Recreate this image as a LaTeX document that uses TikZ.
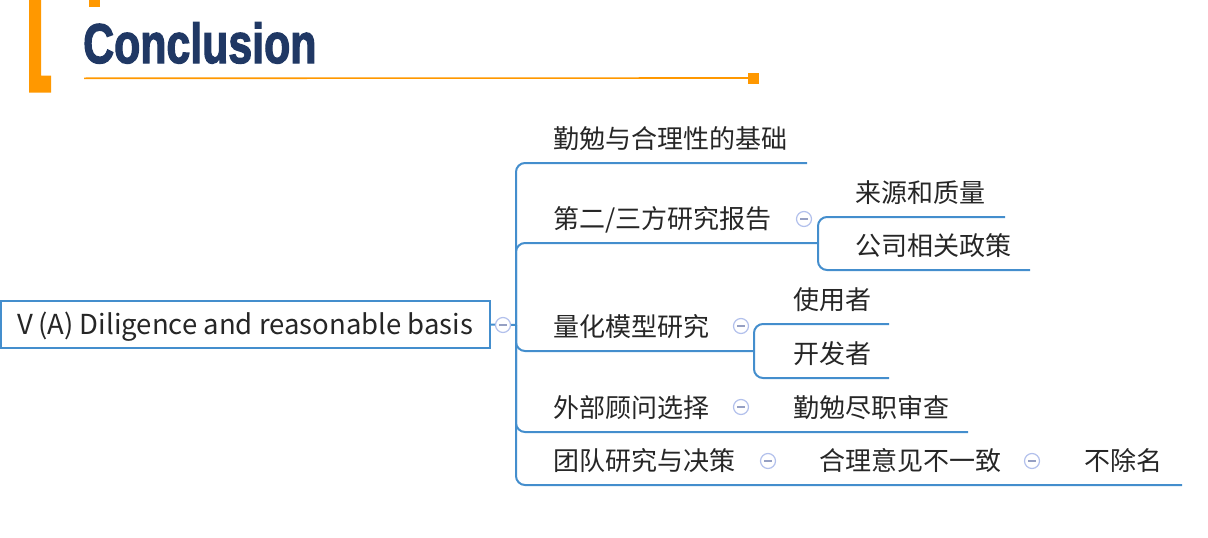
\documentclass[tikz,border=0pt]{standalone}
\usepackage{graphicx}
\usepackage{fontspec}
\setmainfont{Noto Sans CJK SC}
\newfontfamily\titlefont{Liberation Sans}[BoldFeatures={FakeBold=2.5}]

\definecolor{accent}{RGB}{255,152,0}
\definecolor{titleblue}{RGB}{32,56,100}
\definecolor{mapblue}{RGB}{68,142,205}
\definecolor{ink}{RGB}{38,38,38}
\definecolor{foldring}{RGB}{178,192,236}
\definecolor{foldbar}{RGB}{150,160,195}

\tikzset{
  branch/.style={draw=mapblue, line width=2pt, rounded corners=9pt},
  topic/.style={anchor=base west, inner sep=0pt, text=ink,
                font=\fontsize{26}{30}\selectfont},
  rootbox/.style={draw=mapblue, line width=1.8pt, fill=white,
                  minimum width=489pt, minimum height=47pt, inner sep=0pt,
                  text=ink, font=\fontsize{27.5}{32}\selectfont,
                  text height=24pt, text depth=5pt},
  fold/.style={circle, draw=foldring, line width=1.2pt, fill=white,
               minimum size=15pt, inner sep=0pt,
               path picture={\draw[foldbar, line width=1.8pt]
                 ([xshift=-3.6pt]path picture bounding box.center) --
                 ([xshift=3.6pt]path picture bounding box.center);}}
}

\begin{document}
\begin{tikzpicture}[x=1pt,y=-1pt]
\useasboundingbox (0,0) rectangle (1208,538);

% ---- heading ----
\fill[accent] (29,0) -- (41,0) -- (41,75.5) -- (51,75.5) -- (51,92.5) -- (29,92.5) -- cycle;
\fill[accent] (89,0) rectangle (100,7);
\node[anchor=base west, inner sep=0pt, text=titleblue] (title) at (83,63)
  {\scalebox{0.765}[1]{\titlefont\bfseries\fontsize{56}{60}\selectfont Conclusion}};
\coordinate (rulestart) at (84,78.3);
\node[fill=accent, minimum size=11pt, inner sep=0pt] (rulebox) at (753.5,78) {};
\draw[accent, line width=1.6pt] (rulestart) -- (rulebox.west);

% ---- mind map nodes ----
\node[rootbox] (root) at (245.5,324.5) {V\,(A) Diligence and reasonable basis};
\coordinate (hub) at (516,325);

\node[topic] (b1) at (553,148.5) {勤勉与合理性的基础};
\node[topic] (b2) at (553,228.5) {第二/三方研究报告};
\node[topic] (b2a) at (855,202.5) {来源和质量};
\node[topic] (b2b) at (855,255.5) {公司相关政策};
\node[topic] (b3) at (553,336.5) {量化模型研究};
\node[topic] (b3a) at (793,309.5) {使用者};
\node[topic] (b3b) at (793,363.5) {开发者};
\node[topic] (b4) at (553,417.5) {外部顾问选择};
\node[topic] (b4a) at (793,417.5) {勤勉尽职审查};
\node[topic] (b5) at (553,470.5) {团队研究与决策};
\node[topic] (b5a) at (819,470.5) {合理意见不一致};
\node[topic] (b5b) at (1084,470.5) {不除名};

% underline ends and sub hubs
\coordinate (u1) at (807,163);
\coordinate (hub2) at (818,243);
\coordinate (u2a) at (1005,217);
\coordinate (u2b) at (1030,270);
\coordinate (hub3) at (754,351);
\coordinate (u3a) at (889,324);
\coordinate (u3b) at (889,378);
\coordinate (u4) at (968,432);
\coordinate (u5) at (1182,485);

% ---- connectors ----
\draw[branch] (root.east) -- (hub);
\draw[branch] (hub) |- (u1);
\draw[branch] (hub) |- (hub2);
\draw[branch] (hub2) |- (u2a);
\draw[branch] (hub2) |- (u2b);
\draw[branch] (hub) |- (hub3);
\draw[branch] (hub3) |- (u3a);
\draw[branch] (hub3) |- (u3b);
\draw[branch] (hub) |- (u4);
\draw[branch] (hub) |- (u5);

% ---- collapse markers ----
\node[fold] (f0) at (503,325) {};
\node[fold] (f2) at (804,219) {};
\node[fold] (f3) at (741,326) {};
\node[fold] (f4) at (741,407) {};
\node[fold] (f5) at (768,461) {};
\node[fold] (f5a) at (1032,461) {};
\end{tikzpicture}
\end{document}
